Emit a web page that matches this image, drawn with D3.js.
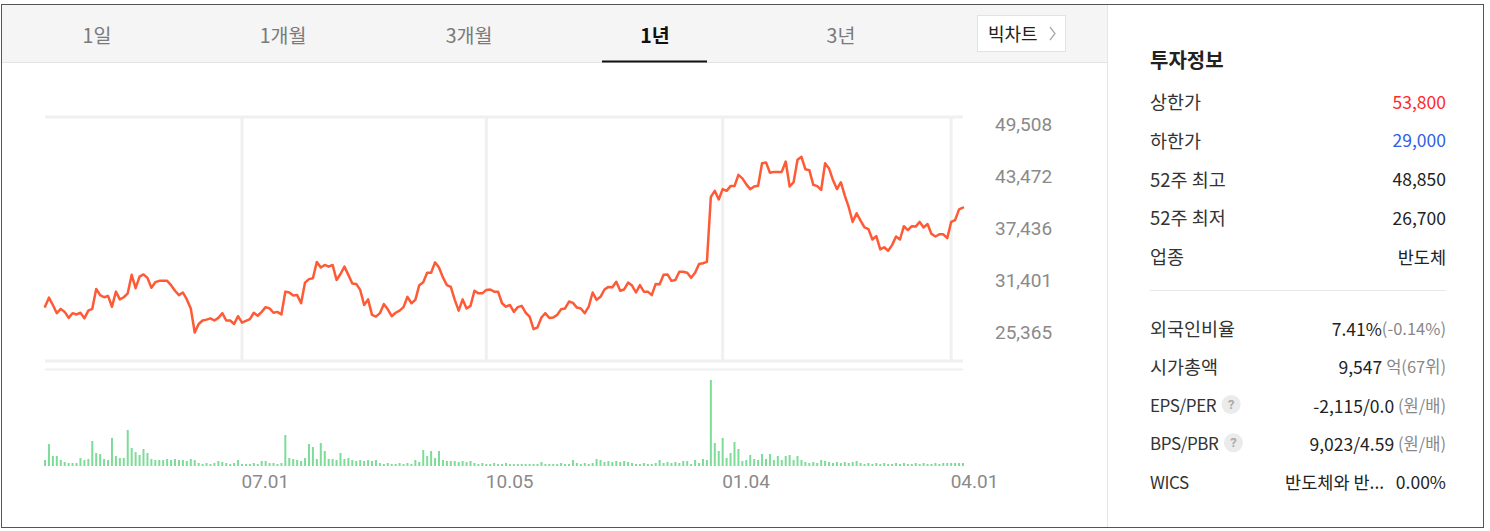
<!DOCTYPE html>
<html>
<head>
<meta charset="utf-8">
<script src="https://cdn.jsdelivr.net/npm/d3@7"></script>
<style>
  html, body { margin: 0; padding: 0; background: #fff; }
  svg { display: block; }
</style>
</head>
<body>
<svg id="chart" width="1490" height="531"></svg>
<script>
// ---------------- DATA ----------------
const tabs = ["1일", "1개월", "3개월", "1년", "3년"];
const selectedTab = "1년";

const priceTicks = [49508, 43472, 37436, 31401, 25365];
const xTickLabels = ["07.01", "10.05", "01.04", "04.01"];
const xTickIndex = [50, 112, 172, 230];

// daily closing prices (won)
const prices = [
  28300, 29350, 28500, 27550, 28050, 27700, 27000, 27550, 27400, 27600,
  26950, 27850, 28050, 30350, 29650, 29400, 29550, 28300, 30050, 29150,
  29400, 29850, 32000, 30450, 31800, 32050, 31650, 30500, 31150, 31300,
  31300, 31300, 30800, 30150, 29650, 29950, 29150, 28100, 25300, 26300,
  26700, 26800, 26950, 26700, 27000, 27550, 26700, 26700, 26300, 27200,
  26450, 26650, 26850, 27600, 27250, 27700, 28250, 28100, 27600, 27700,
  27400, 30050, 29950, 29600, 29650, 28700, 31100, 31500, 31600, 33500,
  32850, 33150, 32950, 33150, 31400, 32100, 32950, 32000, 31000, 30950,
  30250, 28500, 29150, 27350, 27150, 27550, 28600, 28000, 27200, 27600,
  27850, 28250, 29450, 28700, 29100, 30800, 31150, 32250, 32250, 33450,
  32850, 31700, 30800, 30600, 29100, 27850, 29150, 28100, 28400, 30150,
  29850, 29850, 30250, 30300, 30050, 30050,
  28700, 28300, 28500, 27700, 28250, 28400, 27600, 27150, 25700, 25900,
  27050, 27550, 27000, 27050, 27350, 28000, 28100, 28900, 28750, 28200,
  28100, 27550, 28300, 29950, 29100, 29450, 30300, 30600, 30550, 31200,
  30150, 30300, 31100, 30750, 29950, 30800, 30050, 30050, 29650, 30950,
  30900, 32000, 32050, 31300, 31400, 32350, 32350, 32250, 31650, 32250,
  33250, 33350, 33500, 41050, 41750, 40750, 41950, 41750, 42300,
  42300, 43600, 43200, 42500, 41950, 42250, 42350, 44950, 45050, 43850,
  43950, 43950, 43950, 45150, 42250, 42750, 45350, 45700, 44250, 44150,
  42450, 42300, 41850, 44950, 44350, 43000, 41950, 42750, 41200, 39850,
  38150, 39150, 38300, 37500, 37300, 36100, 36500, 34950, 35200, 34800,
  35450, 36450, 36100, 37650, 37200, 37650, 37600, 38150, 37500, 37900,
  36750, 36450, 36700, 36700, 36250, 38150, 38350, 39600, 39800
];

// daily volume (thousand shares)
const volumes = [
  300, 1100, 500, 500, 300, 200, 150, 150, 150, 400,
  300, 350, 1250, 650, 600, 350, 300, 1400, 500, 400,
  400, 1800, 900, 700, 550, 850, 650, 350, 300, 300,
  300, 350, 300, 350, 300, 300, 250, 350, 300, 150,
  100, 150, 100, 150, 250, 200, 150, 100, 150, 300,
  100, 100, 100, 150, 100, 250, 250, 150, 150, 100,
  150, 1550, 400, 350, 300, 250, 400, 1100, 950, 350,
  1150, 750, 350, 350, 300, 650, 350, 400, 300, 250,
  300, 250, 300, 250, 300, 150, 100, 150, 100, 100,
  150, 100, 150, 100, 300, 200, 800, 500, 750, 400,
  750, 300, 250, 250, 250, 200, 250, 200, 250, 150,
  100, 150, 100, 100, 150, 100, 100, 150, 100, 100,
  100, 100, 100, 100, 100, 100, 200, 100, 100, 100,
  100, 150, 100, 100, 300, 150, 100, 150, 100, 150,
  350, 300, 200, 250, 200, 250, 200, 250, 200, 150,
  100, 100, 150, 100, 100, 150, 300, 150, 200, 150,
  200, 150, 250, 250, 100, 300, 150, 350, 300, 4300,
  1150, 750, 1400, 400, 650, 1200, 850, 250, 300, 550,
  350, 300, 600, 350, 600, 300, 500, 300, 500, 550,
  300, 500, 300, 200, 150, 200, 150, 300, 250, 200,
  150, 200, 150, 200, 150, 200, 250, 150, 100, 150,
  100, 150, 100, 150, 100, 100, 150, 100, 150, 100,
  100, 150, 100, 150, 100, 100, 150, 100, 150, 150,
  150, 150, 150, 150
];

const infoTop = [
  { label: "상한가", value: "53,800", color: "#ff2a2a" },
  { label: "하한가", value: "29,000", color: "#2f5fe3" },
  { label: "52주 최고", value: "48,850", color: "#222" },
  { label: "52주 최저", value: "26,700", color: "#222" },
  { label: "업종", value: "반도체", color: "#222" }
];
const infoBottom = [
  { label: "외국인비율", main: "7.41%", sub: "(-0.14%)", help: false },
  { label: "시가총액", main: "9,547 ", sub: "억(67위)", help: false },
  { label: "EPS/PER", main: "-2,115/0.0 ", sub: "(원/배)", help: true },
  { label: "BPS/PBR", main: "9,023/4.59 ", sub: "(원/배)", help: true },
  { label: "WICS", main: "반도체와 반...   0.00%", sub: "", help: false }
];

// ---------------- DRAW ----------------
const svg = d3.select("#chart");
const KR = "'Noto Sans CJK KR', 'Noto Sans', sans-serif";
const NUM = "Roboto, 'Noto Sans', sans-serif";
const isLatin = s => /^[A-Za-z\/ ]+$/.test(s);

svg.append("rect").attr("x", 0).attr("y", 0).attr("width", 1490).attr("height", 531).attr("fill", "#fff");

// tab bar
svg.append("rect").attr("x", 2).attr("y", 5).attr("width", 1105).attr("height", 57).attr("fill", "#f5f5f5");
svg.append("line").attr("x1", 2).attr("x2", 1107).attr("y1", 62.5).attr("y2", 62.5)
  .attr("stroke", "#e4e4e4").attr("stroke-width", 1);

const tabX = d3.scalePoint().domain(tabs).range([97, 841]);
svg.selectAll("text.tab").data(tabs).join("text")
  .attr("class", "tab")
  .attr("x", d => tabX(d)).attr("y", 34)
  .attr("text-anchor", "middle").attr("dominant-baseline", "central")
  .attr("font-family", KR).attr("font-size", 19.5)
  .attr("font-weight", d => d === selectedTab ? 700 : 400)
  .attr("fill", d => d === selectedTab ? "#111" : "#7a7a7a")
  .text(d => d);
svg.append("rect").attr("x", tabX(selectedTab) - 53).attr("y", 60.5).attr("width", 105).attr("height", 2).attr("fill", "#111");

// big chart button
svg.append("rect").attr("x", 977.5).attr("y", 15.5).attr("width", 88).attr("height", 36)
  .attr("fill", "#fff").attr("stroke", "#e2e2e2");
svg.append("text").attr("x", 988).attr("y", 33).attr("dominant-baseline", "central")
  .attr("font-family", KR).attr("font-size", 18).attr("fill", "#222").text("빅차트");
svg.append("path").attr("d", "M1050,27 L1055,33.5 L1050,40").attr("fill", "none")
  .attr("stroke", "#aaa").attr("stroke-width", 1.3);

// scales
const x = d3.scaleLinear().domain([0, prices.length - 1]).range([45, 963]);
const y = d3.scaleLinear().domain([priceTicks[4], priceTicks[0]]).range([332, 124]);
const yv = d3.scaleLinear().domain([0, d3.max(volumes)]).range([466, 380]);

const gridColor = "#f0f0f0";
[117, 361].forEach(yy => {
  svg.append("line").attr("x1", 45).attr("x2", 963).attr("y1", yy).attr("y2", yy)
    .attr("stroke", gridColor).attr("stroke-width", 3);
});
svg.append("line").attr("x1", 45).attr("x2", 963).attr("y1", 369.5).attr("y2", 369.5)
  .attr("stroke", gridColor).attr("stroke-width", 2);

svg.selectAll("line.vgrid").data(xTickIndex).join("line")
  .attr("class", "vgrid")
  .attr("x1", d => x(d)).attr("x2", d => x(d))
  .attr("y1", 117).attr("y2", 361)
  .attr("stroke", gridColor).attr("stroke-width", 3);

// y axis labels (right)
const yAxis = d3.axisRight(y).tickValues(priceTicks).tickSize(0).tickPadding(0)
  .tickFormat(d3.format(","));
const yg = svg.append("g").attr("transform", "translate(995,0)").call(yAxis);
yg.select(".domain").remove();
yg.selectAll("text").attr("font-family", NUM).attr("font-size", 19).attr("fill", "#8a8a8a")
  .attr("text-anchor", "start").attr("dy", "0.35em").attr("x", 0);

// x axis labels
const xAxis = d3.axisBottom(x).tickValues(xTickIndex).tickSize(0).tickPadding(0)
  .tickFormat((d, i) => xTickLabels[i]);
const xg = svg.append("g").attr("transform", "translate(-1,481)").call(xAxis);
xg.select(".domain").remove();
xg.selectAll("text").attr("font-family", NUM).attr("font-size", 19).attr("fill", "#8a8a8a")
  .attr("text-anchor", "start").attr("dy", "0.35em").attr("y", 0);

// volume bars
svg.selectAll("rect.vol").data(volumes).join("rect")
  .attr("class", "vol")
  .attr("x", (d, i) => x(i) - 1)
  .attr("width", 2)
  .attr("y", d => yv(d))
  .attr("height", d => yv(0) - yv(d))
  .attr("fill", "#7ddc98");

// price line
const line = d3.line().x((d, i) => x(i)).y(d => y(d));
svg.append("path").datum(prices)
  .attr("d", line)
  .attr("fill", "none")
  .attr("stroke", "#ff5a36")
  .attr("stroke-width", 2.5)
  .attr("stroke-linejoin", "round")
  .attr("stroke-linecap", "round");

// right panel separator
svg.append("line").attr("x1", 1107.5).attr("x2", 1107.5).attr("y1", 5).attr("y2", 527)
  .attr("stroke", "#e6e6e6");

// info panel
svg.append("text").attr("x", 1150).attr("y", 59).attr("dominant-baseline", "central")
  .attr("font-family", KR).attr("font-size", 20).attr("font-weight", 700).attr("fill", "#222")
  .text("투자정보");

const topY = d3.scalePoint().domain(infoTop.map(d => d.label)).range([101, 256]);
infoTop.forEach(d => {
  svg.append("text").attr("x", 1150).attr("y", topY(d.label)).attr("dominant-baseline", "central")
    .attr("font-family", KR).attr("font-size", 18.5).attr("fill", "#333").text(d.label);
  svg.append("text").attr("x", 1446).attr("y", topY(d.label)).attr("dominant-baseline", "central")
    .attr("text-anchor", "end")
    .attr("font-family", KR).attr("font-size", 17.5).attr("fill", d.color).text(d.value);
});

svg.append("line").attr("x1", 1150).attr("x2", 1446).attr("y1", 290.5).attr("y2", 290.5)
  .attr("stroke", "#e8e8e8");

const botY = d3.scalePoint().domain(infoBottom.map(d => d.label)).range([328, 481]);
infoBottom.forEach(d => {
  const yy = botY(d.label);
  const lab = svg.append("text").attr("x", 1150).attr("y", yy).attr("dominant-baseline", "central")
    .attr("font-family", KR).attr("font-size", isLatin(d.label) ? 17 : 18.5)
    .attr("letter-spacing", isLatin(d.label) ? -0.4 : 0)
    .attr("fill", "#333").text(d.label);
  if (d.help) {
    const w = lab.node().getComputedTextLength();
    const cx = 1150 + w + 15;
    svg.append("circle").attr("cx", cx).attr("cy", yy).attr("r", 9.5).attr("fill", "#ebebeb");
    svg.append("text").attr("x", cx).attr("y", yy).attr("text-anchor", "middle")
      .attr("dominant-baseline", "central").attr("font-family", NUM).attr("font-size", 13)
      .attr("font-weight", 700).attr("fill", "#aaa").text("?");
  }
  const t = svg.append("text").attr("x", 1446).attr("y", yy).attr("dominant-baseline", "central")
    .attr("text-anchor", "end").attr("font-family", KR).attr("xml:space", "preserve");
  t.append("tspan").attr("font-size", 17.5).attr("fill", "#222").text(d.main);
  if (d.sub) t.append("tspan").attr("font-size", 16.5).attr("fill", "#888").text(d.sub);
});

// outer frame border
svg.append("rect").attr("x", 1.5).attr("y", 4.5).attr("width", 1482).attr("height", 523)
  .attr("fill", "none").attr("stroke", "#555").attr("stroke-width", 1);
</script>
</body>
</html>
